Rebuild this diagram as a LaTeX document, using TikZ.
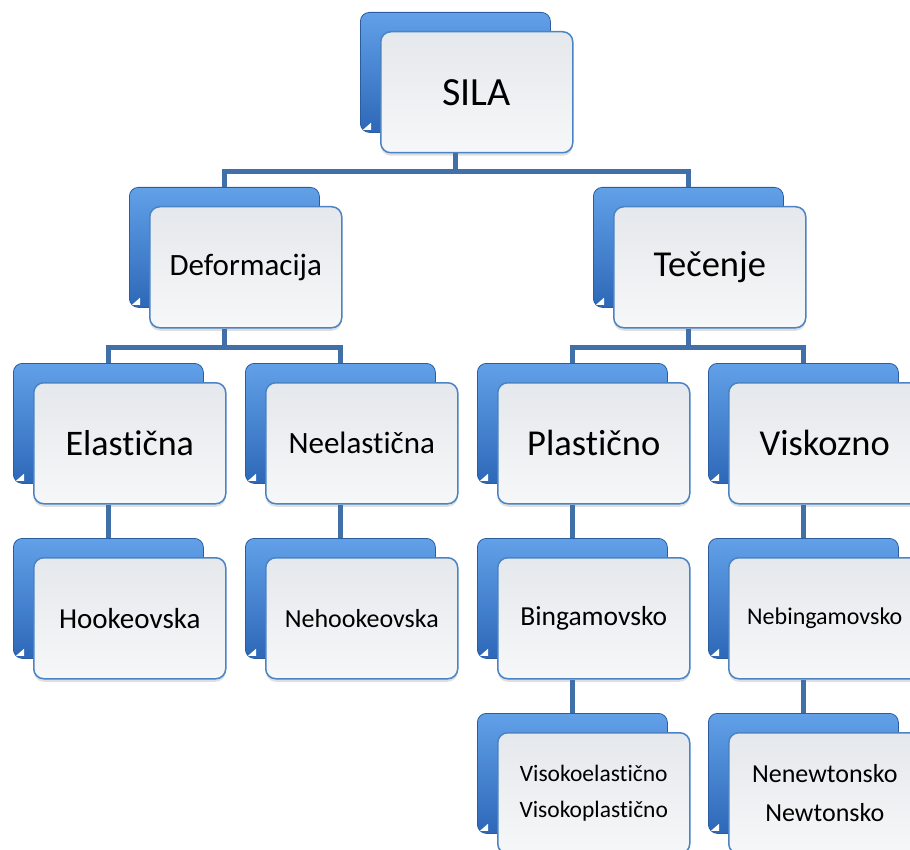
\documentclass[tikz,border=0pt]{standalone}
\usepackage{fontspec}
\setmainfont{Carlito}[RawFeature={-liga;-clig;-calt;-dlig}]
\usetikzlibrary{positioning, shadows}
\definecolor{backtop}{HTML}{62A0E8}
\definecolor{backmid}{HTML}{3C7DD2}
\definecolor{backbot}{HTML}{2D68B8}
\definecolor{backedge}{HTML}{2A5C9E}
\definecolor{fronttop}{HTML}{E5E8EC}
\definecolor{frontbot}{HTML}{F6F7F8}
\definecolor{frontedge}{HTML}{4A84C4}
\definecolor{linkblue}{HTML}{4170A8}
\tikzset{back/.style={draw=backedge,line width=0.8pt,rounded corners=9pt,top color=backtop,middle color=backmid,bottom color=backbot,minimum width=190pt,minimum height=120pt,inner sep=0pt,anchor=north west},
         front/.style={draw=frontedge,line width=1.5pt,rounded corners=10pt,top color=fronttop,bottom color=frontbot,minimum width=192pt,minimum height=121pt,inner sep=0pt,anchor=north west,align=center,text=black,drop shadow={shadow xshift=0pt,shadow yshift=-3pt,opacity=.25}},
         link/.style={draw=linkblue,line width=4.5pt},
         corner/.style={fill=white},
        }
\newcommand{\card}[5]{%
  \node[back](#1-b)at(#2,#3){};
  \fill[corner]([shift={(3,-3)}]#1-b.south west)--([shift={(11,-10)}]#1-b.south west)--([shift={(11,-3)}]#1-b.south west)--cycle;
  \node[front,font=#4](#1)at({#2+20},{#3+19}){#5};
}

\begin{document}
\begin{tikzpicture}[x=1pt,y=-1pt]
        \useasboundingbox (0,0) rectangle (910,850);
        \clip (0,0) rectangle (910,850);
        \card{sila}{360}{12}{\fontsize{40}{48}\selectfont}{SILA}
        \card{def}{129}{187}{\fontsize{31}{37}\selectfont}{Deformacija}
        \card{tec}{593}{187}{\fontsize{36.5}{44}\selectfont}{Tečenje}
        \card{ela}{13}{363}{\fontsize{36}{43}\selectfont}{Elastična}
        \card{nee}{245}{363}{\fontsize{31}{37}\selectfont}{Neelastična}
        \card{pla}{477}{363}{\fontsize{36.5}{44}\selectfont}{Plastično}
        \card{vis}{708}{363}{\fontsize{36.5}{44}\selectfont}{Viskozno}
        \card{hoo}{13}{538}{\fontsize{29}{35}\selectfont}{Hookeovska}
        \card{nhoo}{245}{538}{\fontsize{26}{31}\selectfont}{Nehookeovska}
        \card{bin}{477}{538}{\fontsize{27.5}{33}\selectfont}{Bingamovsko}
        \card{nbin}{708}{538}{\fontsize{24}{29}\selectfont}{Nebingamovsko}
        \card{vel}{477}{713}{\fontsize{23.5}{36}\selectfont}{Visokoelastično\\Visokoplastično}
        \card{nnew}{708}{713}{\fontsize{26}{39}\selectfont}{Nenewtonsko\\Newtonsko}

        \draw[link](sila-b.south |- sila.south)--++(0,18)-|(def-b.north);
        \draw[link](sila-b.south |- sila.south)--++(0,18)-|(tec-b.north);
        \draw[link](def-b.south |- def.south)--++(0,19)-|(ela-b.north);
        \draw[link](def-b.south |- def.south)--++(0,19)-|(nee-b.north);
        \draw[link](tec-b.south |- tec.south)--++(0,19)-|(pla-b.north);
        \draw[link](tec-b.south |- tec.south)--++(0,19)-|(vis-b.north);

        \draw[link](ela-b.south |- ela.south)--(hoo-b.north);
        \draw[link](nee-b.south |- nee.south)--(nhoo-b.north);
        \draw[link](pla-b.south |- pla.south)--(bin-b.north);
        \draw[link](vis-b.south |- vis.south)--(nbin-b.north);
        \draw[link](bin-b.south |- bin.south)--(vel-b.north);
        \draw[link](nbin-b.south |- nbin.south)--(nnew-b.north);
    \end{tikzpicture}
\end{document}
